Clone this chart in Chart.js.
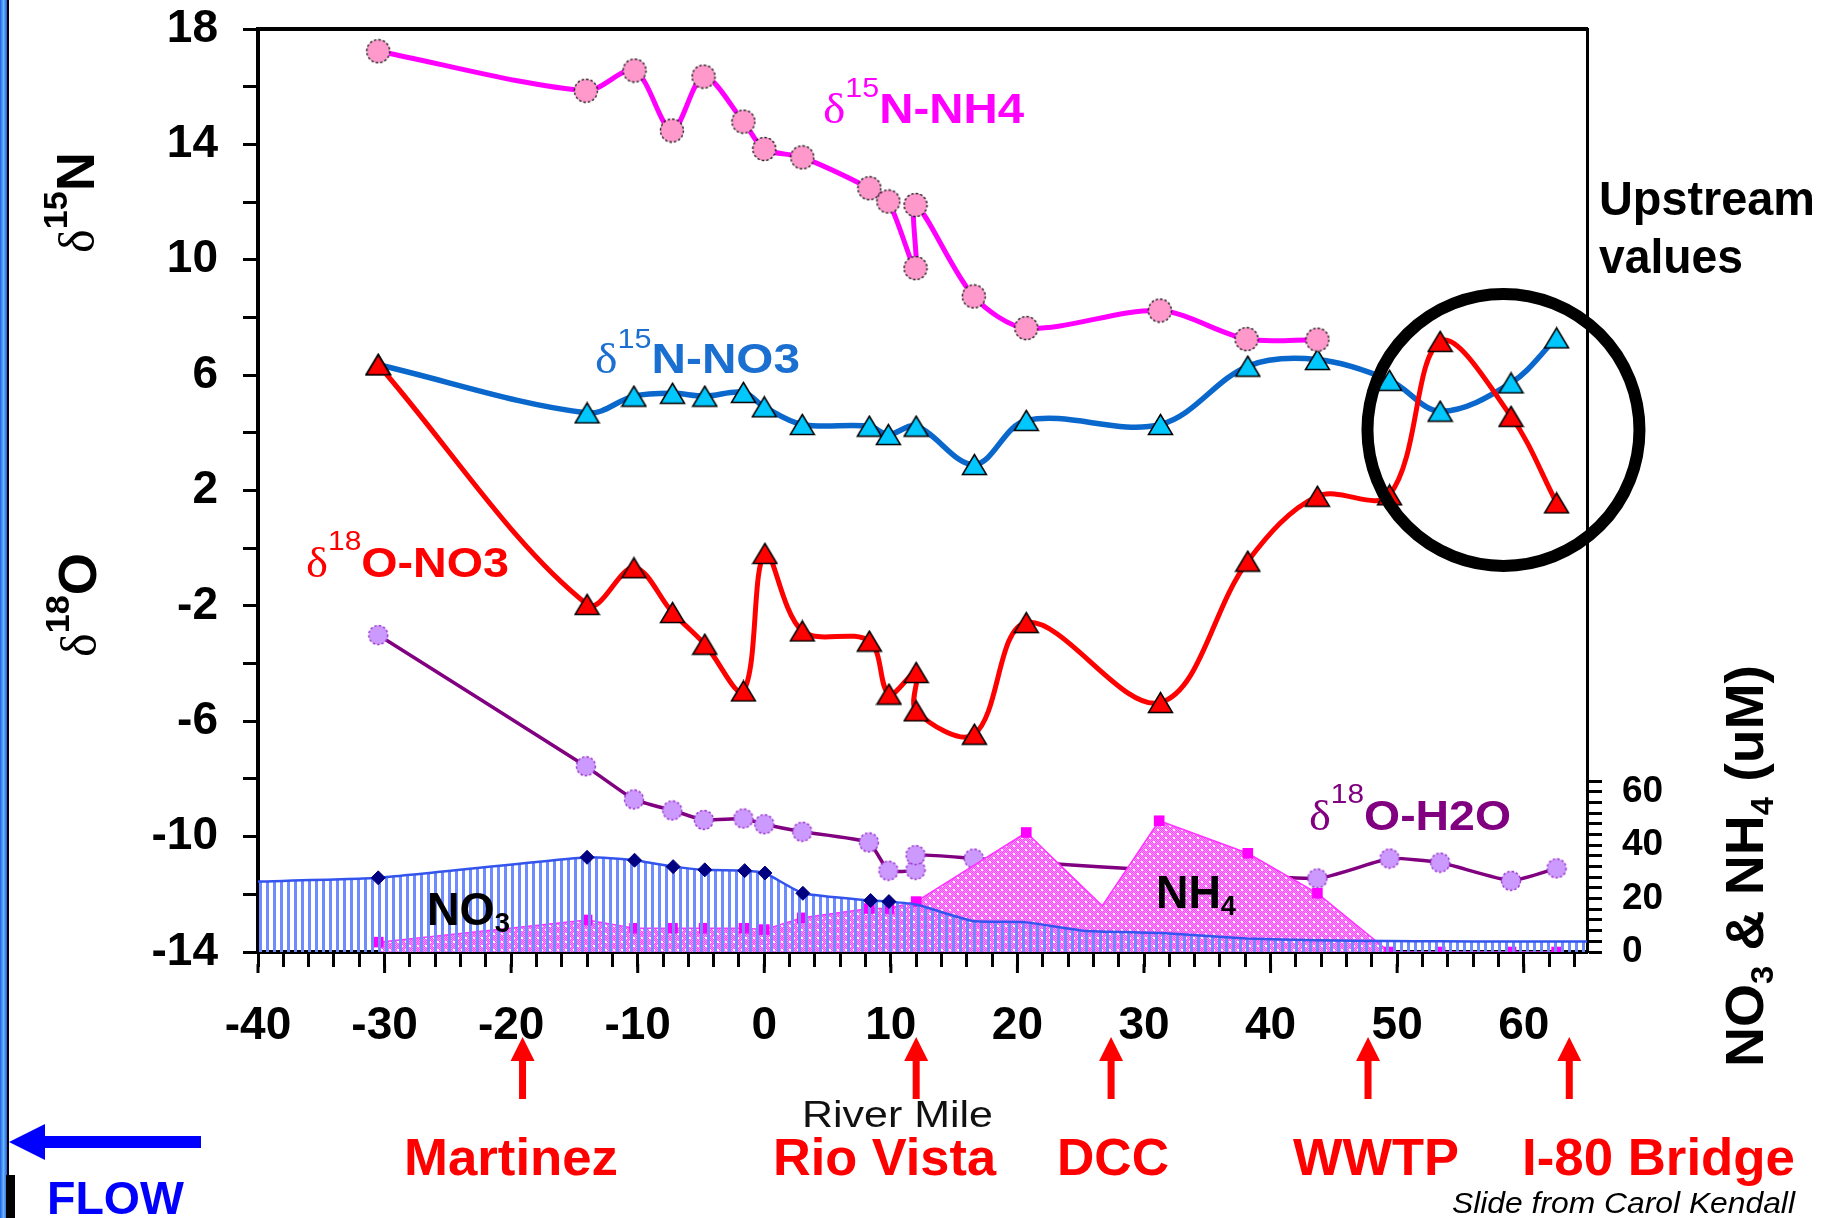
<!DOCTYPE html>
<html>
<head>
<meta charset="utf-8">
<script src="https://cdn.jsdelivr.net/npm/chart.js@4.4.1/dist/chart.umd.min.js"></script>
<style>
  html, body { margin: 0; padding: 0; background: #fff; }
  canvas { display: block; }
</style>
</head>
<body>
<canvas id="riverChart" width="1822" height="1218"></canvas>
<script>
// river mile of each sample, and isotope values
const nh4IsoMile = [-30.5, -14.1, -10.25, -7.3, -4.8, -1.65, 0, 3, 8.3, 9.8, 11.95, 11.95, 16.55, 20.7, 31.25, 38.1, 43.7];
const d15nNH4 = [17.23, 15.86, 16.56, 14.48, 16.35, 14.79, 13.84, 13.55, 12.48, 12.02, 9.71, 11.9, 8.73, 7.63, 8.24, 7.25, 7.23];

const no3N15Mile = [-30.5, -14, -10.3, -7.25, -4.7, -1.65, 0, 3, 8.3, 9.8, 12, 16.6, 20.7, 31.3, 38.2, 43.7, 49.4, 53.4, 59, 62.6];
const d15nNO3 = [6.36, 4.69, 5.27, 5.37, 5.27, 5.4, 4.9, 4.29, 4.23, 3.94, 4.23, 2.9, 4.43, 4.29, 6.31, 6.54, 5.82, 4.75, 5.73, 7.29];

const no3O18Mile = [-30.5, -14, -10.3, -7.25, -4.7, -1.65, 0.05, 3, 8.3, 9.85, 12, 12, 16.6, 20.7, 31.3, 38.2, 43.7, 49.4, 53.4, 59, 62.6];
const d18oNO3 = [6.36, -1.95, -0.68, -2.23, -3.33, -4.95, -0.18, -2.87, -3.22, -5.06, -4.31, -5.64, -6.45, -2.58, -5.35, -0.45, 1.8, 1.85, 7.17, 4.57, 1.57];

const h2oMile = [-30.5, -14.1, -10.3, -7.27, -4.78, -1.65, 0, 3, 8.26, 9.81, 11.95, 11.95, 16.55, 43.7, 49.4, 53.4, 59, 62.6];
const d18oH2O = [-3.01, -7.56, -8.71, -9.09, -9.42, -9.37, -9.57, -9.83, -10.2, -11.18, -11.15, -10.64, -10.76, -11.45, -10.76, -10.9, -11.53, -11.1];

// concentrations (uM, right axis)
const no3ConcMile = [-40, -30.5, -14, -10.25, -7.2, -4.7, -1.55, 0.05, 3.05, 8.4, 9.85, 12, 16.5, 20.6, 25.2, 31.4, 38.1, 43.7, 49.4, 53.4, 59, 65];
const no3Conc = [26.4, 27.8, 35.5, 34.4, 32.0, 30.8, 30.5, 29.6, 22.0, 19.3, 18.9, 17.8, 11.6, 11.2, 8.0, 7.1, 5.1, 4.4, 4.1, 4.0, 3.9, 3.9];
const no3Marked = [0, 1, 1, 1, 1, 1, 1, 1, 1, 1, 1, 0, 0, 0, 0, 0, 0, 0, 0, 0, 0, 0];

const nh4ConcMile = [-30.5, -14, -10.25, -7.25, -4.75, -1.6, 0, 3, 8.3, 9.85, 12, 20.7, 26.7, 31.2, 38.2, 43.7, 49.4, 53.4, 59, 62.6];
const nh4Conc = [3.7, 12.0, 8.9, 8.9, 8.9, 8.9, 8.4, 12.8, 16.3, 16.3, 18.9, 44.8, 17.3, 49.2, 37.0, 22.0, 0, 0, 0, 0];
const nh4Marked = [1, 1, 1, 1, 1, 1, 1, 1, 1, 1, 1, 1, 0, 1, 1, 1, 1, 1, 1, 1];

// tick labels
const xTickLabels = [-40, -30, -20, -10, 0, 10, 20, 30, 40, 50, 60];
const yLeftLabels = [-14, -10, -6, -2, 2, 6, 10, 14, 18];
const yRightLabels = [0, 20, 40, 60];

// sites marked with red arrows under the axis
const siteNames = ['Martinez', 'Rio Vista', 'DCC', 'WWTP', 'I-80 Bridge'];
const siteMiles = [-19.1, 12.0, 27.4, 47.7, 63.6];

const SANS = "'Liberation Sans', Arial, sans-serif";
const SERIF = "'Liberation Serif', 'Times New Roman', serif";

function pts(xs, ys) { return xs.map((v, i) => ({ x: v, y: ys[i] })); }
function range(a, b, s) { const r = []; for (let v = a; v <= b + 1e-9; v += s) r.push(v); return r; }
function noPad(s) { s.paddingTop = 0; s.paddingBottom = 0; s.paddingLeft = 0; s.paddingRight = 0; }

// marker images
function circleMarker(r, fill, stroke) {
  const c = document.createElement('canvas');
  c.width = c.height = Math.ceil(r * 2 + 3);
  const g = c.getContext('2d');
  g.beginPath();
  g.arc(c.width / 2, c.height / 2, r, 0, Math.PI * 2);
  g.fillStyle = fill; g.fill();
  g.setLineDash([2.5, 2]);
  g.lineWidth = 1.4; g.strokeStyle = stroke; g.stroke();
  return c;
}
function triMarker(fill) {
  const c = document.createElement('canvas');
  c.width = 27; c.height = 23;
  const g = c.getContext('2d');
  g.beginPath();
  g.moveTo(13.5, 1.5); g.lineTo(25.5, 21.5); g.lineTo(1.5, 21.5); g.closePath();
  g.fillStyle = fill; g.fill();
  g.lineWidth = 1.5; g.strokeStyle = '#000'; g.stroke();
  return c;
}

function stripePattern(ctx) {
  const c = document.createElement('canvas');
  c.width = 7; c.height = 8;
  const g = c.getContext('2d');
  g.fillStyle = '#6f8cff';
  g.fillRect(0, 0, 3, 8);
  return ctx.createPattern(c, 'repeat');
}
function dotPattern(ctx) {
  const c = document.createElement('canvas');
  c.width = 8; c.height = 8;
  const g = c.getContext('2d');
  g.fillStyle = '#ff44ff';
  g.fillRect(0, 0, 8, 8);
  g.fillStyle = '#ff99ff';
  for (let i = 0; i < 8; i++) for (let j = 0; j < 8; j++) if ((i + j) % 2) g.fillRect(i, j, 1, 1);
  g.fillStyle = '#ffffff';
  g.fillRect(1, 1, 2, 2);
  g.fillRect(5, 5, 2, 2);
  return ctx.createPattern(c, 'repeat');
}

// text in parts (for super/subscripts), squeezed or stretched to a given width
function rich(ctx, parts, x, y, w, rot, color) {
  let total = 0;
  parts.forEach(p => { ctx.font = p[1]; total += ctx.measureText(p[0]).width; });
  ctx.save();
  ctx.fillStyle = color;
  ctx.textBaseline = 'alphabetic';
  ctx.textAlign = 'left';
  ctx.translate(x, y);
  if (rot) ctx.rotate(rot);
  if (w) ctx.scale(w / total, 1);
  let cx = 0;
  parts.forEach(p => {
    ctx.font = p[1];
    ctx.fillText(p[0], cx, p[2] || 0);
    cx += ctx.measureText(p[0]).width;
  });
  ctx.restore();
}

function upArrow(ctx, x, tip, base, color) {
  ctx.save();
  ctx.fillStyle = color;
  ctx.fillRect(x - 3.5, tip + 20, 7, base - tip - 20);
  ctx.beginPath();
  ctx.moveTo(x, tip); ctx.lineTo(x + 12, tip + 24); ctx.lineTo(x - 12, tip + 24); ctx.closePath();
  ctx.fill();
  ctx.restore();
}

const decor = {
  id: 'decor',
  beforeDraw(chart) {
    const ctx = chart.ctx;
    ctx.save();
    const gr = ctx.createLinearGradient(0, 0, 7, 0);
    gr.addColorStop(0, '#1a5fe0');
    gr.addColorStop(0.5, '#6ab4ff');
    gr.addColorStop(1, '#1a5fe0');
    ctx.fillStyle = gr;
    ctx.fillRect(0, 0, 7, chart.height);
    ctx.fillStyle = '#000';
    ctx.fillRect(7, 0, 2, chart.height);
    ctx.fillRect(6, 1175, 9, chart.height - 1175);
    ctx.restore();
  },
  afterDraw(chart) {
    const { ctx, chartArea: a, scales } = chart;
    const x = scales.x, y = scales.y;
    ctx.save();
    // top frame line
    ctx.strokeStyle = '#000';
    ctx.lineWidth = 4;
    ctx.beginPath(); ctx.moveTo(a.left - 2, a.top); ctx.lineTo(a.right + 1, a.top); ctx.stroke();
    // longer ticks at labelled river miles
    ctx.lineWidth = 3;
    xTickLabels.forEach(v => {
      const px = x.getPixelForValue(v);
      ctx.beginPath(); ctx.moveTo(px, a.bottom + 12); ctx.lineTo(px, a.bottom + 21); ctx.stroke();
    });
    // circle round the upstream values
    ctx.lineWidth = 12;
    ctx.beginPath();
    ctx.arc(x.getPixelForValue(58.4), y.getPixelForValue(4.1), 136, 0, Math.PI * 2);
    ctx.stroke();
    ctx.restore();

    // site arrows
    siteMiles.forEach(m => upArrow(ctx, x.getPixelForValue(m), 1037, 1099, '#ff0000'));

    const B = 'bold ';
    // series labels
    rich(ctx, [['δ', '42px ' + SERIF], ['15', '27px ' + SANS, -26], ['N-NH4', B + '42px ' + SANS]], 823, 123, 201, 0, '#ff00ff');
    rich(ctx, [['δ', '42px ' + SERIF], ['15', '27px ' + SANS, -25], ['N-NO3', B + '42px ' + SANS]], 595, 373, 205, 0, '#1a6fd0');
    rich(ctx, [['δ', '42px ' + SERIF], ['18', '27px ' + SANS, -27], ['O-NO3', B + '42px ' + SANS]], 306, 577, 203, 0, '#ff0000');
    rich(ctx, [['δ', '42px ' + SERIF], ['18', '27px ' + SANS, -27], ['O-H2O', B + '42px ' + SANS]], 1309, 830, 202, 0, '#800080');
    rich(ctx, [['NO', B + '46px ' + SANS], ['3', B + '28px ' + SANS, 7]], 427, 925, 83, 0, '#000');
    rich(ctx, [['NH', B + '46px ' + SANS], ['4', B + '28px ' + SANS, 7]], 1156, 908, 80, 0, '#000');
    rich(ctx, [['Upstream', B + '48px ' + SANS]], 1599, 215, 216, 0, '#000');
    rich(ctx, [['values', B + '48px ' + SANS]], 1599, 273, 144, 0, '#000');

    // axis titles
    const up = -Math.PI / 2;
    rich(ctx, [['δ', '50px ' + SERIF], ['15', B + '34px ' + SANS, -27], ['N', B + '54px ' + SANS]], 94, 253, 101, up, '#000');
    rich(ctx, [['δ', '50px ' + SERIF], ['18', B + '34px ' + SANS, -27], ['O', B + '54px ' + SANS]], 96, 657, 104, up, '#000');
    rich(ctx, [['NO', B + '54px ' + SANS], ['3', B + '32px ' + SANS, 10], [' & NH', B + '54px ' + SANS], ['4', B + '32px ' + SANS, 10], [' (uM)', B + '54px ' + SANS]], 1763, 1067, 402, up, '#000');
    rich(ctx, [['River Mile', '37px ' + SANS]], 802, 1127, 191, 0, '#111');

    // site names
    const siteX = [404, 773, 1057, 1293, 1522];
    const siteW = [214, 223, 112, 166, 273];
    siteNames.forEach((n, i) => rich(ctx, [[n, B + '52px ' + SANS]], siteX[i], 1175, siteW[i], 0, '#ff0000'));

    rich(ctx, [['Slide from Carol Kendall', 'italic 29px ' + SANS]], 1452, 1213, 343, 0, '#000');

    // flow arrow
    ctx.save();
    ctx.fillStyle = '#0000ff';
    ctx.fillRect(44, 1136, 157, 12);
    ctx.beginPath(); ctx.moveTo(9, 1142); ctx.lineTo(45, 1124); ctx.lineTo(45, 1160); ctx.closePath(); ctx.fill();
    ctx.restore();
    rich(ctx, [['FLOW', B + '47px ' + SANS]], 47, 1214, 137, 0, '#0000ff');
  }
};

const canvas = document.getElementById('riverChart');
const ctx = canvas.getContext('2d');

const tickFont = { family: SANS, size: 46, weight: 'bold' };

new Chart(ctx, {
  type: 'scatter',
  data: {
    datasets: [
      {
        label: 'd18O-NO3',
        data: pts(no3O18Mile, d18oNO3),
        showLine: true, tension: 0.35,
        borderColor: '#ff0000', borderWidth: 5,
        pointStyle: triMarker('#ff0000'), pointRadius: 10,
        order: 1
      },
      {
        label: 'd15N-NH4',
        data: pts(nh4IsoMile, d15nNH4),
        showLine: true, tension: 0.3,
        borderColor: '#ff00ff', borderWidth: 5,
        pointStyle: circleMarker(11.5, '#ff99cc', '#222'), pointRadius: 10,
        order: 2
      },
      {
        label: 'd15N-NO3',
        data: pts(no3N15Mile, d15nNO3),
        showLine: true, tension: 0.35,
        borderColor: '#0a68cc', borderWidth: 5.5,
        pointStyle: triMarker('#00c8ff'), pointRadius: 10,
        order: 3
      },
      {
        label: 'NO3',
        data: pts(no3ConcMile, no3Conc),
        yAxisID: 'y2',
        showLine: true, tension: 0.15,
        borderColor: '#3355ee', borderWidth: 2.5,
        backgroundColor: stripePattern(ctx),
        fill: 'origin',
        pointStyle: 'rectRot',
        pointRadius: no3Marked.map(m => m ? 7 : 0),
        pointBackgroundColor: '#000080', pointBorderColor: '#000080', pointBorderWidth: 1,
        order: 4
      },
      {
        label: 'NH4',
        data: pts(nh4ConcMile, nh4Conc),
        yAxisID: 'y2',
        showLine: true, tension: 0,
        borderColor: '#ff33ff', borderWidth: 1.5,
        backgroundColor: dotPattern(ctx),
        fill: 'origin',
        pointStyle: 'rect',
        pointRadius: nh4Marked.map(m => m ? 7.5 : 0),
        pointBackgroundColor: '#ff00ff', pointBorderColor: '#ff00ff', pointBorderWidth: 0,
        order: 5
      },
      {
        label: 'd18O-H2O',
        data: pts(h2oMile, d18oH2O),
        showLine: true, tension: 0.15,
        borderColor: '#800080', borderWidth: 3.5,
        pointStyle: circleMarker(9.5, '#cc99ff', '#9933cc'), pointRadius: 8,
        order: 6
      }
    ]
  },
  options: {
    responsive: false,
    animation: false,
    events: [],
    layout: { padding: { top: 29, left: 0, right: 0, bottom: 0 } },
    plugins: { legend: { display: false }, tooltip: { enabled: false } },
    scales: {
      x: {
        type: 'linear', min: -40, max: 65,
        afterBuildTicks: s => { s.ticks = range(-40, 64, 2).map(v => ({ value: v })); },
        afterFit: s => { s.height = 266; noPad(s); },
        ticks: {
          autoSkip: false, maxRotation: 0, padding: 32, color: '#000', font: tickFont,
          callback: v => (xTickLabels.includes(v) ? String(v) : '')
        },
        grid: { drawOnChartArea: false, tickLength: 15, tickWidth: 3, tickColor: '#000' },
        border: { color: '#000', width: 4 }
      },
      y: {
        position: 'left', min: -14, max: 18,
        afterBuildTicks: s => { s.ticks = range(-14, 18, 2).map(v => ({ value: v })); },
        afterFit: s => { s.width = 258; noPad(s); },
        ticks: {
          autoSkip: false, padding: 25, color: '#000', font: tickFont,
          callback: v => (yLeftLabels.includes(v) ? String(v) : '')
        },
        grid: { drawOnChartArea: false, tickLength: 15, tickWidth: 3, tickColor: '#000' },
        border: { color: '#000', width: 4 }
      },
      y2: {
        position: 'right', min: 0, max: 346,
        afterBuildTicks: s => { s.ticks = range(0, 64, 4).map(v => ({ value: v })); },
        afterFit: s => { s.width = 235; noPad(s); },
        ticks: {
          autoSkip: false, padding: 20, color: '#000', font: { family: SANS, size: 37, weight: 'bold' },
          callback: v => (yRightLabels.includes(v) ? String(v) : '')
        },
        grid: { drawOnChartArea: false, tickLength: 15, tickWidth: 3, tickColor: '#000' },
        border: { color: '#000', width: 3 }
      }
    }
  },
  plugins: [decor]
});
</script>
</body>
</html>
